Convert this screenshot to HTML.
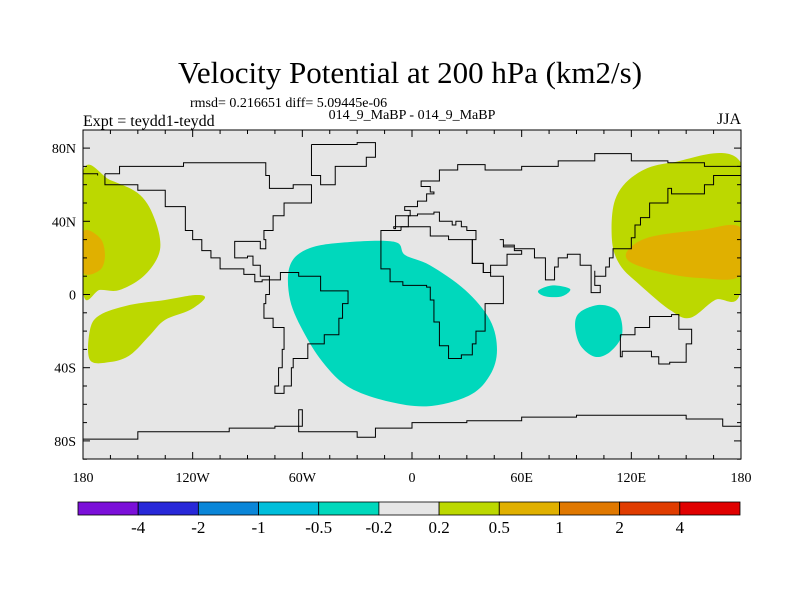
<!DOCTYPE html>
<html><head><meta charset="utf-8"><style>
body{margin:0;background:#fff;}
svg text{font-family:"Liberation Serif",serif;fill:#000;}
</style></head><body>
<svg id="c" width="800" height="600" xmlns="http://www.w3.org/2000/svg">
<text x="410" y="83" font-size="31" text-anchor="middle">Velocity Potential at 200 hPa (km2/s)</text>
<text x="190" y="107" font-size="14">rmsd= 0.216651 diff= 5.09445e-06</text>
<text x="412" y="119" font-size="14" text-anchor="middle">014_9_MaBP - 014_9_MaBP</text>
<text x="83" y="126" font-size="16">Expt = teydd1-teydd</text>
<text x="741" y="124" font-size="16" text-anchor="end">JJA</text>
<rect x="83" y="130" width="658" height="329" fill="#e6e6e6"/>
<g id="fills"></g><g id="coast"></g><g id="ticks"></g><g id="cbar"></g>
<rect x="83" y="130" width="658" height="329" fill="none" stroke="#000" stroke-width="1"/>
</svg>
<script>
const levels=["-4","-2","-1","-0.5","-0.2","0.2","0.5","1","2","4"];
const levelColors=["#7b10d9","#2828d8","#0a86d8","#00bedb","#00d8bc","#e6e6e6","#bcd800","#e0b000","#e07800","#e03c00","#e00000"];
const lonTicks=[-180,-120,-60,0,60,120,180];
const lonLabels=["180","120W","60W","0","60E","120E","180"];
const latTicks=[80,40,0,-40,-80];
const latLabels=["80N","40N","0","40S","80S"];
const blobs=[
 {name:"green-east",c:6,p:[[109.4,29.8],[111.1,51.7],[122,65.3],[141.2,71.9],[180,71.9],[180,2.5],[165.8,-3],[152.1,-12.8],[141.2,-8.5],[124.7,5.2],[113.8,16.1]]},
 {name:"green-west",c:6,p:[[-180,67],[-165.2,62.6],[-148.8,54.4],[-140.6,40.7],[-137.9,24.3],[-146.1,10.7],[-159.8,2.5],[-170.7,2.5],[-180,1.4]]},
 {name:"green-southwest",c:6,p:[[-176.2,-19.4],[-170.7,-11.2],[-154.3,-5.7],[-135.1,-3],[-118.7,-0.3],[-113.3,-1.9],[-121.5,-8.5],[-135.1,-13.9],[-143.3,-22.1],[-154.3,-33.1],[-165.2,-36.9],[-176.2,-35.8]]},
 {name:"orange-east",c:7,p:[[118.2,24.3],[130.2,31.4],[157.6,35.2],[180,36.3],[180,10.7],[157.6,9],[135.7,12.3],[119.3,17.8]]},
 {name:"orange-west",c:7,p:[[-180,34.2],[-170.7,30.9],[-168,21.6],[-170.7,13.4],[-180,12.3]]},
 {name:"cyan-atlantic",c:4,p:[[-66.7,16],[-55.8,25.4],[-33.9,28.7],[-9.3,28.7],[-3.8,21.6],[9.8,16],[29,2.5],[42.7,-14],[46.5,-30.3],[42.7,-44],[31.7,-55],[9.8,-61],[-12,-58.7],[-33.9,-51],[-47.6,-38.5],[-58.5,-22],[-66.7,-3]]},
 {name:"cyan-indian-north",c:4,p:[[69,2],[77,5],[86.5,3],[82,-1],[73,-1]]},
 {name:"cyan-indian-south",c:4,p:[[92,-9.6],[103,-5.7],[112.7,-9.6],[114.9,-22],[108.3,-31.4],[100,-34],[92,-27.6],[89.2,-16.7]]}
];
const coasts=[
 [[-168,66],[-160,70],[-140,70],[-125,72],[-95,72],[-80,65],[-78,58],[-65,60],[-55,50],[-70,43],[-76,35],[-81,30],[-80,25],[-83,29],[-90,29],[-97,26],[-97,20],[-90,21],[-87,16],[-83,10],[-78,8],[-82,7],[-86,11],[-92,14],[-105,20],[-110,24],[-115,30],[-120,35],[-124,40],[-124,48],[-135,57],[-150,60],[-165,60],[-168,66]],
 [[-78,8],[-72,12],[-62,10],[-50,2],[-35,-5],[-38,-13],[-40,-22],[-48,-27],[-57,-35],[-65,-40],[-66,-50],[-70,-54],[-75,-50],[-73,-40],[-71,-30],[-70,-18],[-76,-13],[-81,-5],[-80,0],[-78,8]],
 [[-55,82],[-30,83],[-20,75],[-25,70],[-42,60],[-50,65],[-55,75],[-55,82]],
 [[-6,35],[-17,21],[-17,14],[-12,7],[-5,5],[8,4],[10,-3],[12,-15],[15,-28],[20,-35],[27,-33],[33,-27],[35,-20],[40,-15],[40,-5],[50,10],[43,12],[39,17],[33,30],[20,32],[10,37],[-6,35]],
 [[-10,36],[-9,43],[-1,46],[-4,48],[3,51],[8,55],[12,56],[10,59],[5,60],[5,62],[15,68],[25,71],[40,68],[60,70],[80,73],[100,77],[120,73],[140,72],[160,70],[180,68]],
 [[-180,66],[-172,65]],
 [[180,65],[165,60],[160,55],[142,58],[140,50],[130,42],[125,38],[122,31],[120,25],[110,20],[108,15],[106,10],[100,13],[100,5],[103,1],[98,8],[98,16],[92,22],[85,20],[80,15],[78,8],[73,20],[67,25],[57,25],[56,27],[50,30],[48,30],[50,26],[56,24],[60,22],[52,16],[43,12],[39,17],[33,30],[35,35],[30,37],[27,40],[24,38],[22,40],[18,40],[15,45],[12,44],[8,44],[3,43],[-2,37],[-10,36]],
 [[114,-22],[122,-18],[130,-12],[137,-12],[142,-11],[146,-19],[153,-27],[150,-37],[141,-38],[135,-34],[131,-31],[115,-34],[114,-22]],
 [[-180,-79],[-160,-79],[-150,-75],[-100,-73],[-75,-72],[-60,-63],[-62,-75],[-30,-78],[-20,-73],[0,-70],[30,-69],[60,-67],[90,-66],[120,-66],[150,-68],[170,-72],[180,-79]]
];
const X=lon=>83+(lon+180)/360*658;
const Y=lat=>294.5-lat*1.83;
const NS="http://www.w3.org/2000/svg";
function mk(t,a,par){const e=document.createElementNS(NS,t);for(const k in a)e.setAttribute(k,a[k]);par.appendChild(e);return e;}
function smooth(pts){const n=pts.length;let d=`M${pts[0][0]},${pts[0][1]}`;
 for(let i=0;i<n;i++){const p0=pts[(i-1+n)%n],p1=pts[i],p2=pts[(i+1)%n],p3=pts[(i+2)%n];
  d+=` C${p1[0]+(p2[0]-p0[0])/6},${p1[1]+(p2[1]-p0[1])/6} ${p2[0]-(p3[0]-p1[0])/6},${p2[1]-(p3[1]-p1[1])/6} ${p2[0]},${p2[1]}`;}
 return d+"Z";}
const fills=document.getElementById('fills');
mk('clipPath',{id:'clip'},fills).appendChild(Object.assign(document.createElementNS(NS,'rect'),{})).setAttribute('x','83');
const cr=fills.querySelector('clipPath rect');cr.setAttribute('y','130');cr.setAttribute('width','658');cr.setAttribute('height','329');
const fg=mk('g',{'clip-path':'url(#clip)'},fills);
blobs.forEach(b=>{const e=mk('path',{d:smooth(b.p.map(q=>[X(q[0]),Y(q[1])])),fill:levelColors[b.c]},fg);
 
 });
const cg=document.getElementById('coast');
coasts.forEach((c,i)=>{let d='';c.forEach((q,j)=>{const x=X(q[0]),y=Y(q[1]);
 if(j==0)d+=`M${x},${y}`;else{const px=X(c[j-1][0]);d+=`H${x}V${y}`;}});
 const e=mk('path',{d:d,fill:'none',stroke:'#000','stroke-width':1},cg);
 
 });
const tg=document.getElementById('ticks');
for(let lon=-180;lon<=180;lon+=15){const maj=lon%60==0,L=maj?7:4,x=X(lon);
 mk('line',{x1:x,x2:x,y1:459,y2:459-L,stroke:'#000'},tg);mk('line',{x1:x,x2:x,y1:130,y2:130+L,stroke:'#000'},tg);}
for(let lat=-90;lat<=90;lat+=10){const maj=lat%40==0&&Math.abs(lat)<=80,L=maj?7:4,y=Y(lat);
 if(y<130||y>459.5)continue;
 mk('line',{x1:83,x2:83+L,y1:y,y2:y,stroke:'#000'},tg);mk('line',{x1:741,x2:741-L,y1:y,y2:y,stroke:'#000'},tg);}
lonTicks.forEach((v,i)=>{const t=mk('text',{x:X(v),y:482,'font-size':14,'text-anchor':'middle'},tg);t.textContent=lonLabels[i];
 
 });
latTicks.forEach((v,i)=>{const t=mk('text',{x:76,y:Y(v)+5,'font-size':14,'text-anchor':'end'},tg);t.textContent=latLabels[i];
 
 });
const bg=document.getElementById('cbar');
const bx0=78,bx1=740,bw=(bx1-bx0)/levelColors.length;
levelColors.forEach((c,i)=>{const r=mk('rect',{x:bx0+i*bw,y:502,width:bw,height:13,fill:c,stroke:'#000','stroke-width':0.8},bg);
 
 });
levels.forEach((l,i)=>{const t=mk('text',{x:bx0+(i+1)*bw,y:533,'font-size':17,'text-anchor':'middle'},bg);t.textContent=l;
 
 });
</script>
</body></html>
